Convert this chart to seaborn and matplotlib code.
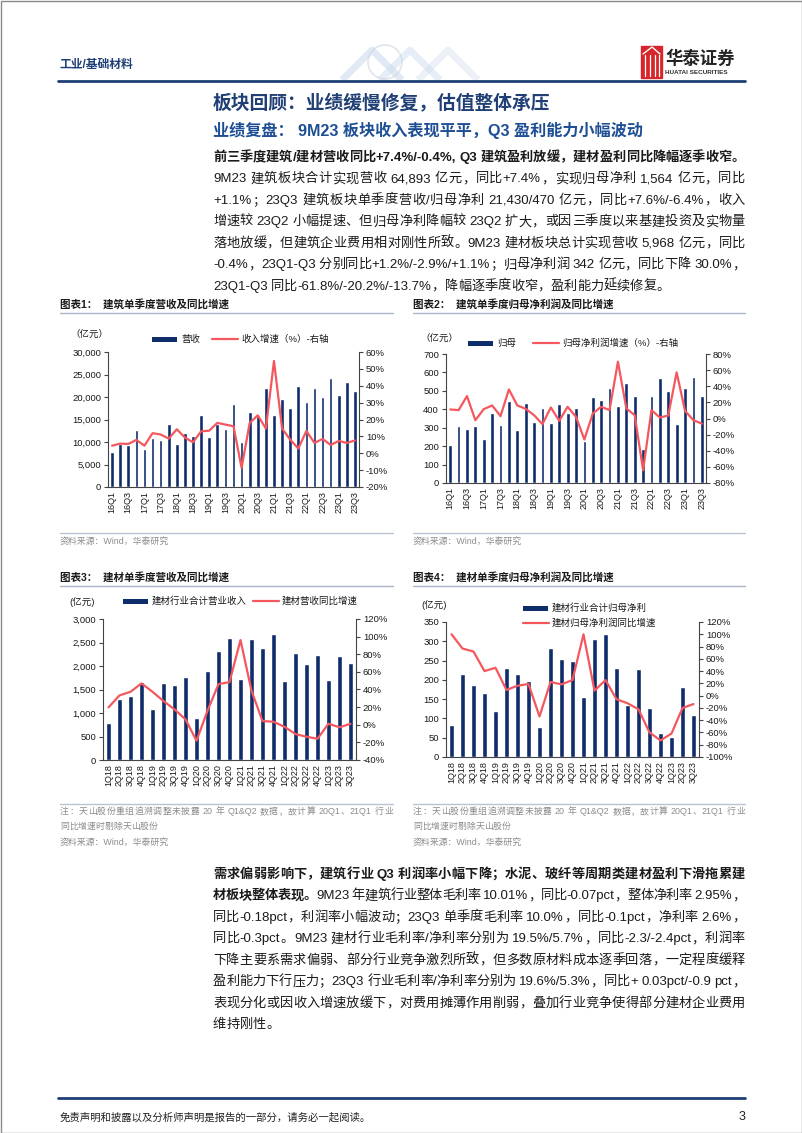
import re
import numpy as np
import pandas as pd
import matplotlib
matplotlib.use("Agg")
import matplotlib.pyplot as plt
import matplotlib.ticker as mticker
from matplotlib.patches import Rectangle, Circle
import seaborn as sns

# ---------------- data ----------------
q_cons = ["16Q1", "16Q2", "16Q3", "16Q4", "17Q1", "17Q2", "17Q3", "17Q4",
          "18Q1", "18Q2", "18Q3", "18Q4", "19Q1", "19Q2", "19Q3", "19Q4",
          "20Q1", "20Q2", "20Q3", "20Q4", "21Q1", "21Q2", "21Q3", "21Q4",
          "22Q1", "22Q2", "22Q3", "22Q4", "23Q1", "23Q2", "23Q3"]
cons_rev = [7700, 9500, 9300, 12600, 8400, 11000, 10500, 13900, 9600, 11900, 11300, 15900,
            11100, 13900, 13000, 18400, 10100, 16700, 15700, 22100, 15900, 19600, 17500, 22400,
            19000, 21900, 20000, 24300, 20500, 23300, 21430]
cons_rev_g = [4.5, 5.7, 5.5, 7.9, 4.5, 11.9, 11.1, 8.7, 14.2, 9.3, 6.5, 13.0, 13.4, 18.0, 17.0, 16.0,
              -8.7, 18.0, 22.5, 14.6, 54.7, 14.6, 8.1, 2.8, 13.2, 6.1, 8.5, 4.9, 7.3, 6.1, 7.6]
cons_np = [207, 308, 295, 310, 241, 378, 313, 445, 286, 434, 331, 408, 328, 427, 381, 405,
           228, 468, 450, 517, 417, 544, 470, 185, 472, 572, 501, 319, 517, 577, 470]
cons_np_g = [11.2, 10.4, 27.8, -2.1, 11.6, 16.2, 2.9, 36.1, 16.2, 12.0, 4.1, -7.0, 13.7, -2.9, 14.5, 2.1,
             -26.1, 6.2, 14.5, 10.4, 70.5, 12.4, 4.1, -64.2, 10.4, 1.2, 3.7, 57.2, 9.5, -2.1, -6.4]

q_mat = ["1Q18", "2Q18", "3Q18", "4Q18", "1Q19", "2Q19", "3Q19", "4Q19", "1Q20", "2Q20", "3Q20", "4Q20",
         "1Q21", "2Q21", "3Q21", "4Q21", "1Q22", "2Q22", "3Q22", "4Q22", "1Q23", "2Q23", "3Q23"]
mat_rev = [794, 1298, 1362, 1660, 1085, 1645, 1603, 1766, 887, 1887, 2326, 2603,
           1723, 2567, 2383, 2688, 1681, 2270, 2050, 2241, 1702, 2206, 2071]
mat_rev_g = [19.7, 33.3, 37.4, 46.9, 37.4, 26.9, 17.4, 6.1, -18.2, 15.9, 46.1, 48.4,
             96.1, 38.6, 4.2, 3.4, -2.3, -10.6, -13.6, -15.9, 1.2, -2.9, 1.1]
mat_np = [83, 215, 186, 166, 120, 232, 214, 196, 77, 283, 253, 248,
          156, 305, 318, 231, 134, 228, 126, 62, 52, 182, 108]
mat_np_g = [100, 76.8, 71.9, 40, 45.4, 9.2, 16.2, 18.9, -34, 22.2, 18.4, 25.4,
            100, 8.1, 25.4, -5.9, -12.4, -22.2, -60, -73, -61.8, -20.2, -13.7]

ticks_c1_l = [0, 5000, 10000, 15000, 20000, 25000, 30000]
ticks_c1_r = [-20, -10, 0, 10, 20, 30, 40, 50, 60]
ticks_c2_l = [0, 100, 200, 300, 400, 500, 600, 700]
ticks_c2_r = [-80, -60, -40, -20, 0, 20, 40, 60, 80]
ticks_c3_l = [0, 500, 1000, 1500, 2000, 2500, 3000]
ticks_c3_r = [-40, -20, 0, 20, 40, 60, 80, 100, 120]
ticks_c4_l = [0, 50, 100, 150, 200, 250, 300, 350]
ticks_c4_r = [-100, -80, -60, -40, -20, 0, 20, 40, 60, 80, 100, 120]

# ---------------- style ----------------
sns.set_theme(style="white")
plt.rcParams['font.family'] = ['Liberation Sans', 'Noto Sans CJK SC', 'DejaVu Sans']
plt.rcParams['axes.unicode_minus'] = False

NAVY = '#0F2C6B'
RED = '#F4585E'
SP = '#444444'
TXT = '#1a1a1a'
GRAY = '#8c8c8c'
HDR = '#1F3F75'
FS = 6.8

W, H = 802, 1133
fig = plt.figure(figsize=(W / 100, H / 100), dpi=100)
fig.patch.set_facecolor('white')
page = fig.add_axes([0, 0, 1, 1], zorder=0)
page.set_xlim(0, W)
page.set_ylim(H, 0)
page.axis('off')
renderer = fig.canvas.get_renderer()

TOK = re.compile(r'[\u2e80-\u9fff\u3000-\u303f\uff00-\uffef]| +|[^\u2e80-\u9fff\u3000-\u303f\uff00-\uffef ]+')


def put_line(segs, x0, y, size, x1=None, color=TXT):
    """Draw a line of text made of (text, weight) segments; justify to x1 if given."""
    items = []
    for txt, wt in segs:
        for tok in TOK.findall(txt):
            items.append((tok, wt))
    placed = []
    base = y + size * 100 / 72 * 0.36
    for tok, wt in items:
        if tok.strip() == '':
            placed.append([None, size * 100 / 72 * 0.25 * len(tok)])
        else:
            o = page.text(x0, base, tok, fontsize=size, fontweight=wt, color=color,
                          va='baseline', ha='left')
            placed.append([o, o.get_window_extent(renderer).width])
    total = sum(w for _, w in placed)
    ng = len(placed) - 1
    extra = (x1 - x0 - total) / ng if (x1 is not None and ng > 0) else 0
    x = x0
    for o, w in placed:
        if o is not None:
            o.set_x(x)
        x += w + extra


# ---------------- page decoration ----------------
page.add_patch(Rectangle((0.5, 0.5), W - 1, H - 1, fill=False, ec='#8a8a8a', lw=1))
# watermark chevrons / globe
for cx, a in [(372, 0.55), (410, 0.45), (448, 0.35)]:
    page.plot([cx - 30, cx, cx + 30], [80, 50, 80], color='#c9d9ec', lw=5, alpha=a,
              solid_capstyle='butt')
page.add_patch(Circle((385, 62), 17, fill=False, ec='#dfe5ec', lw=1.2))
page.text(60, 65, "工业/基础材料", fontsize=8.5, fontweight='bold', color=HDR, va='center', ha='left')
page.plot([58, 745], [80.5, 80.5], color=HDR, lw=2)
# logo
page.add_patch(Rectangle((641, 46), 21, 32, color='#D7262B'))
for xx in [645, 650, 655, 659]:
    page.plot([xx, xx], [55, 76], color='white', lw=0.9)
page.plot([643, 652, 660], [54, 47, 54], color='white', lw=1.0)
page.text(665, 58, "华泰证券", fontsize=12.5, fontweight='bold', color='#222222', va='center', ha='left')
page.text(665, 73, "HUATAI SECURITIES", fontsize=4.6, fontweight='bold', color='#333333',
          va='center', ha='left')

page.text(213, 104, "板块回顾：业绩缓慢修复，估值整体承压", fontsize=13.5, fontweight='bold',
          color=HDR, va='center', ha='left')
page.text(213, 130, "业绩复盘： 9M23 板块收入表现平平，Q3 盈利能力小幅波动", fontsize=11.6,
          fontweight='bold', color='#1E4F95', va='center', ha='left')

X0, X1 = 213, 745
BS = 9.5
para1 = [
    ([("前三季度建筑/建材营收同比+7.4%/-0.4%, Q3 建筑盈利放缓，建材盈利同比降幅逐季收窄。", 'bold')], True),
    ([("9M23 建筑板块合计实现营收 64,893 亿元，同比+7.4%，实现归母净利 1,564 亿元，同比", 'normal')], True),
    ([("+1.1%；23Q3 建筑板块单季度营收/归母净利 21,430/470 亿元，同比+7.6%/-6.4%，收入", 'normal')], True),
    ([("增速较 23Q2 小幅提速、但归母净利降幅较 23Q2 扩大，或因三季度以来基建投资及实物量", 'normal')], True),
    ([("落地放缓，但建筑企业费用相对刚性所致。9M23 建材板块总计实现营收 5,968 亿元，同比", 'normal')], True),
    ([("-0.4%，23Q1-Q3 分别同比+1.2%/-2.9%/+1.1%；归母净利润 342 亿元，同比下降 30.0%，", 'normal')], True),
    ([("23Q1-Q3 同比-61.8%/-20.2%/-13.7%，降幅逐季度收窄，盈利能力延续修复。", 'normal')], False),
]
for i, (segs, just) in enumerate(para1):
    put_line(segs, X0, 156 + i * 21.5, BS, X1 if just else None)

para2 = [
    ([("需求偏弱影响下，建筑行业 Q3 利润率小幅下降；水泥、玻纤等周期类建材盈利下滑拖累建", 'bold')], True),
    ([("材板块整体表现。", 'bold'), ("9M23 年建筑行业整体毛利率 10.01%，同比-0.07pct，整体净利率 2.95%，", 'normal')], True),
    ([("同比-0.18pct，利润率小幅波动；23Q3 单季度毛利率 10.0%，同比-0.1pct，净利率 2.6%，", 'normal')], True),
    ([("同比-0.3pct。9M23 建材行业毛利率/净利率分别为 19.5%/5.7%，同比-2.3/-2.4pct，利润率", 'normal')], True),
    ([("下降主要系需求偏弱、部分行业竞争激烈所致，但多数原材料成本逐季回落，一定程度缓释", 'normal')], True),
    ([("盈利能力下行压力；23Q3 行业毛利率/净利率分别为 19.6%/5.3%，同比+ 0.03pct/-0.9 pct，", 'normal')], True),
    ([("表现分化或因收入增速放缓下，对费用摊薄作用削弱，叠加行业竞争使得部分建材企业费用", 'normal')], True),
    ([("维持刚性。", 'normal')], False),
]
for i, (segs, just) in enumerate(para2):
    put_line(segs, X0, 873 + i * 21.5, BS, X1 if just else None)

# footer
page.plot([58, 745], [1098, 1098], color=HDR, lw=2)
page.text(60, 1117, "免责声明和披露以及分析师声明是报告的一部分，请务必一起阅读。", fontsize=7.5,
          color='#222222', va='center', ha='left')
page.text(745, 1117, "3", fontsize=9, color='#222222', va='center', ha='right')


# ---------------- charts ----------------
def chart(box, cats, bars, growth, lt, rt, step, bar_w):
    l, t, r, b = box
    ax = fig.add_axes([l / W, 1 - b / H, (r - l) / W, (b - t) / H])
    ax.set_facecolor('none')
    n = len(cats)
    df = pd.DataFrame({'cat': cats, 'val': bars, 'pos': np.arange(n), 'g': growth})
    sns.barplot(data=df, x='cat', y='val', order=cats, ax=ax, color=NAVY, saturation=1,
                width=bar_w, errorbar=None)
    ax2 = ax.twinx()
    sns.lineplot(data=df, x='pos', y='g', ax=ax2, color=RED, linewidth=1.6)
    ax.set_xlim(-0.5, n - 0.5)
    ax.set_ylim(lt[0], lt[-1])
    ax.set_yticks(lt)
    ax.yaxis.set_major_formatter(mticker.FuncFormatter(lambda v, p: f"{v:,.0f}"))
    ax2.set_ylim(rt[0], rt[-1])
    ax2.set_yticks(rt)
    ax2.yaxis.set_major_formatter(mticker.FuncFormatter(lambda v, p: f"{v:.0f}%"))
    ax.set_xticks(list(range(0, n, step)))
    ax.set_xticklabels(cats[::step], rotation=90)
    for a in (ax, ax2):
        a.set_xlabel('')
        a.set_ylabel('')
        for s in a.spines.values():
            s.set_visible(False)
    ax.spines['left'].set_visible(True)
    ax.spines['bottom'].set_visible(True)
    ax2.spines['right'].set_visible(True)
    for s in (ax.spines['left'], ax.spines['bottom'], ax2.spines['right']):
        s.set_color(SP)
        s.set_linewidth(0.8)
    ax.tick_params(axis='y', left=True, direction='out', length=3, width=0.8, color=SP,
                   labelsize=FS, labelcolor=TXT, pad=2)
    ax2.tick_params(axis='y', right=True, direction='out', length=3, width=0.8, color=SP,
                    labelsize=FS, labelcolor=TXT, pad=2)
    ax.tick_params(axis='x', bottom=False, length=0, labelsize=6.5, labelcolor=TXT, pad=3)
    ax.grid(False)
    ax2.grid(False)
    return ax, ax2


def legend_item(kind, x, y, label):
    if kind == 'bar':
        page.add_patch(Rectangle((x, y - 2.5), 25, 5, color=NAVY, lw=0))
    else:
        page.plot([x, x + 26], [y, y], color=RED, lw=1.6)
    page.text(x + 29, y, label, fontsize=FS, color=TXT, va='center', ha='left')


def block_frame(x0, x1, ty, title, ly, notes, src_y):
    page.text(x0, ty, title, fontsize=7.6, fontweight='bold', color=TXT, va='center', ha='left')
    page.plot([x0, x1], [ty + 8.5, ty + 8.5], color='#a9b6c9', lw=1)
    page.plot([x0, x1], [ly, ly], color='#b9c3d2', lw=1)
    for txt, yy, just in notes:
        put_line([(txt, 'normal')], x0, yy, 6.4, x1 if just else None, color=GRAY)
    page.text(x0, src_y, "资料来源：Wind，华泰研究", fontsize=6.4, color=GRAY, va='center', ha='left')


# chart 1
chart((108, 352, 359, 487), q_cons, cons_rev, cons_rev_g, ticks_c1_l, ticks_c1_r, 2, 0.45)
block_frame(60, 393, 304, "图表1：  建筑单季度营收及同比增速", 533, [], 541)
page.text(70, 334, "（亿元）", fontsize=FS, color=TXT, va='center', ha='left')
legend_item('bar', 152, 339, "营收")
legend_item('line', 212, 339, "收入增速（%）-右轴")

# chart 2
chart((446, 354, 706, 483), q_cons, cons_np, cons_np_g, ticks_c2_l, ticks_c2_r, 2, 0.45)
block_frame(413, 745, 304, "图表2：  建筑单季度归母净利润及同比增速", 533, [], 541)
page.text(420, 338, "（亿元）", fontsize=FS, color=TXT, va='center', ha='left')
legend_item('bar', 468, 343, "归母")
legend_item('line', 533, 343, "归母净利润增速（%）-右轴")

note1 = "注：天山股份重组追溯调整未披露 20 年 Q1&Q2 数据，故计算 20Q1、21Q1 行业"
note2 = "同比增速时剔除天山股份"

# chart 3
chart((103, 619, 356, 760), q_mat, mat_rev, mat_rev_g, ticks_c3_l, ticks_c3_r, 1, 0.43)
block_frame(60, 393, 577, "图表3：  建材单季度营收及同比增速", 804,
            [(note1, 811, True), (note2, 826, False)], 842)
page.text(69, 602, "(亿元)", fontsize=FS, color=TXT, va='center', ha='left')
legend_item('bar', 123, 601, "建材行业合计营业收入")
legend_item('line', 253, 601, "建材营收同比增速")

# chart 4
chart((446, 622, 699, 757), q_mat, mat_np, mat_np_g, ticks_c4_l, ticks_c4_r, 1, 0.40)
block_frame(413, 745, 577, "图表4：  建材单季度归母净利润及同比增速", 804,
            [(note1, 811, True), (note2, 826, False)], 842)
page.text(421, 605, "(亿元)", fontsize=FS, color=TXT, va='center', ha='left')
legend_item('bar', 523, 608, "建材行业合计归母净利")
legend_item('line', 523, 623, "建材归母净利润同比增速")

fig.savefig("out.png", dpi=100, facecolor='white')
